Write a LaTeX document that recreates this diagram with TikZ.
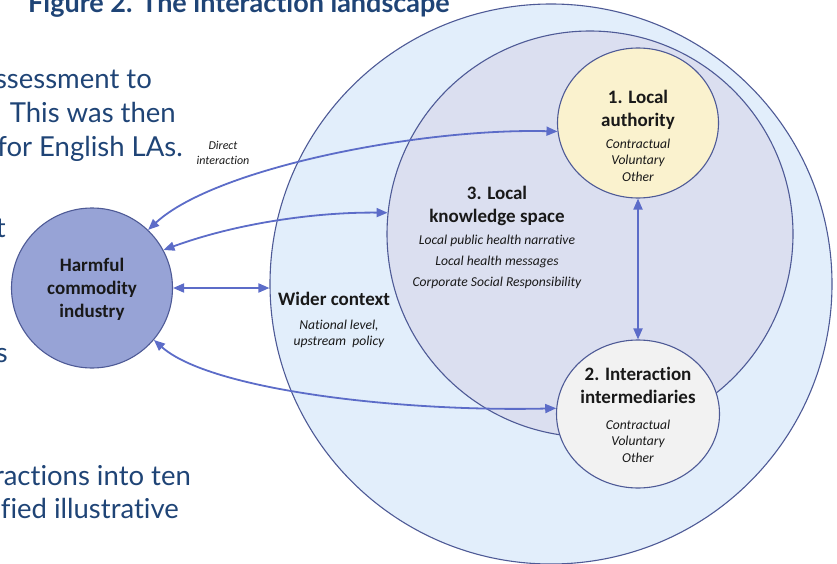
\documentclass[tikz,border=0pt]{standalone}
\usepackage{fontspec}
\setmainfont{Carlito}[Ligatures=CommonOff]
\newfontfamily\latofont{Lato}[Ligatures=CommonOff]
\usetikzlibrary{arrows.meta,shapes.geometric}

\definecolor{rimblue}{RGB}{78,90,150}
\definecolor{arrowblue}{RGB}{92,108,200}
\definecolor{widerfill}{RGB}{226,238,251}
\definecolor{spacefill}{RGB}{219,223,240}
\definecolor{lafill}{RGB}{250,242,206}
\definecolor{midfill}{RGB}{242,242,242}
\definecolor{hcifill}{RGB}{151,163,214}
\definecolor{pagenavy}{RGB}{31,68,118}

\begin{document}
\begin{tikzpicture}[
  x=1pt, y=-1pt,
  zone/.style={ellipse, draw=rimblue, line width=1.1pt, inner sep=0},
  head/.style={inner sep=0, align=center, text=black!90, font=\fontsize{19}{23}\selectfont\bfseries},
  items/.style={inner sep=0, align=center, text=black!90, font=\fontsize{13.6}{16.5}\selectfont\itshape},
  body/.style={inner sep=0, anchor=base east, text=pagenavy, font=\latofont\fontsize{27.5}{34}\selectfont},
  link/.style={draw=arrowblue, line width=1.8pt, {Triangle[length=11pt,width=9pt]}-{Triangle[length=11pt,width=9pt]}}
]
  \useasboundingbox (0,0) rectangle (837,564);
  \clip (0,0) rectangle (837,564);

  % page text around the figure
  \node[inner sep=0, anchor=base west, text=pagenavy, font=\latofont\fontsize{27}{32}\selectfont\bfseries]
    (caption) at (28,13) {Figure 2. The interaction landscape};
  \node[body] (p1) at (152,89) {ssessment to};
  \node[body] (p2) at (176,123) {This was then};
  \node[body] (p3) at (183,157) {for English LAs.};
  \node[body] (p4) at (6,237) {t};
  \node[body] (p5) at (8,362) {s};
  \node[body] (p6) at (191,485) {ractions into ten};
  \node[body] (p7) at (179,518) {fied illustrative};

  % nested zones
  \node[zone, fill=widerfill, minimum width=562pt, minimum height=560pt] (wider) at (551,284) {};
  \node[zone, fill=spacefill, minimum width=406pt, minimum height=406pt] (space) at (590,234) {};
  \node[zone, fill=lafill, minimum width=161pt, minimum height=150pt] (la) at (638,123) {};
  \node[zone, fill=midfill, minimum width=163pt, minimum height=148pt] (mid) at (638,414) {};
  \node[zone, fill=hcifill, minimum width=161pt, minimum height=160pt] (hci) at (92,288) {};

  % labels
  \node[head] (hciT) at (92,289) {Harmful\\commodity\\industry};
  \node[head] (widerT) at (334,299) {Wider context};
  \node[items] (widerI) at (339,334) {National level,\\upstream\ \ policy};
  \node[head] (spaceT) at (497,206) {3. Local\\knowledge space};
  \node[items, font=\fontsize{13.6}{21}\selectfont\itshape] (spaceI) at (497,262)
    {Local public health narrative\\Local health messages\\Corporate Social Responsibility};
  \node[head] (laT) at (638,110) {1. Local\\authority};
  \node[items] (laI) at (638,160) {Contractual\\Voluntary\\Other};
  \node[head] (midT) at (638,385) {2. Interaction\\intermediaries};
  \node[items] (midI) at (638,441) {Contractual\\Voluntary\\Other};
  \node[items, font=\fontsize{12}{15.5}\selectfont\itshape] (direct) at (223,153) {Direct\\interaction};

  % interactions
  \draw[link] (hci.46) .. controls (215,168) and (420,128) .. (la.186);
  \draw[link] (hci.28) .. controls (240,222) and (320,212) .. (space.174);
  \draw[link] (hci.east) -- (hci.east -| wider.west);
  \draw[link] (hci.-40) .. controls (210,390) and (400,412) .. (mid.176);
  \draw[link] (la.south) -- (mid.north);
\end{tikzpicture}
\end{document}
